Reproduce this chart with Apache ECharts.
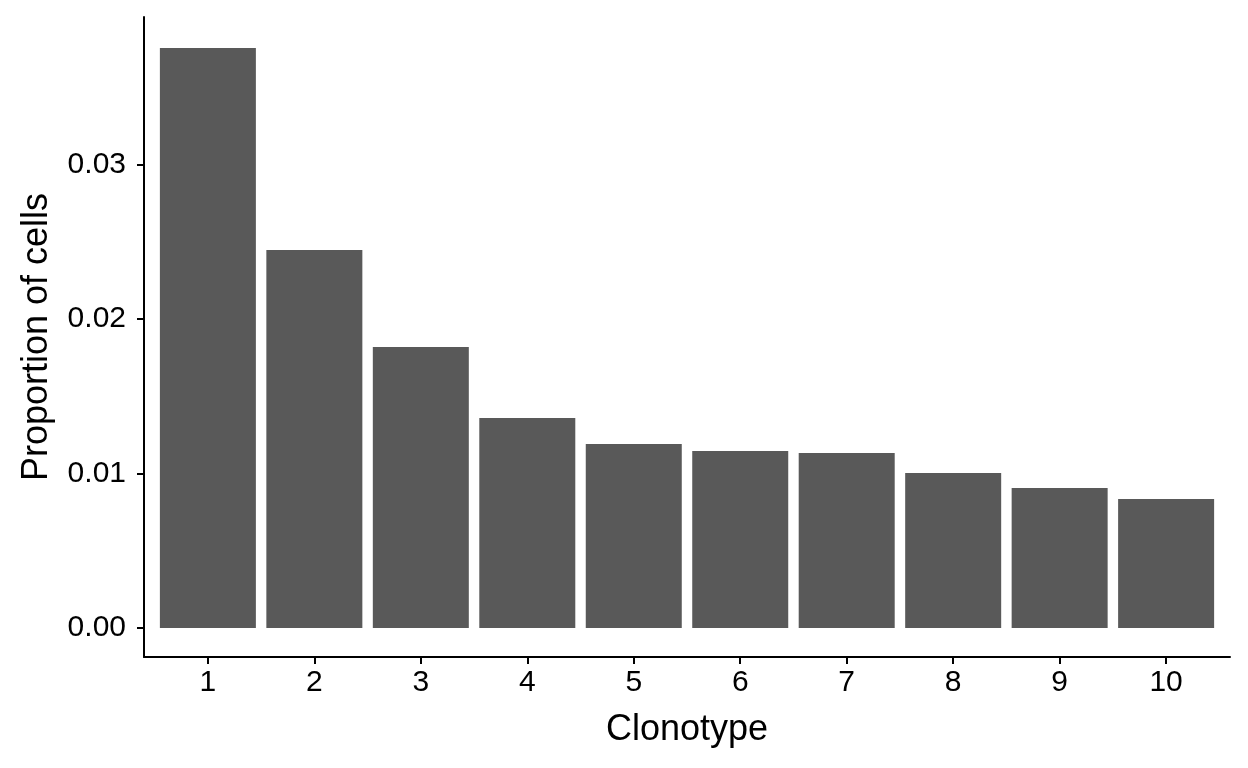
<!DOCTYPE html>
<html>
<head>
<meta charset="utf-8">
<script src="https://cdn.jsdelivr.net/npm/echarts@6/dist/echarts.min.js"></script>
<style>
html,body{margin:0;padding:0;background:#fff;}
#c{width:1248px;height:768px;}
</style>
</head>
<body>
<div id="c"></div>
<script>
var categories = [1, 2, 3, 4, 5, 6, 7, 8, 9, 10];
var proportions = [0.03752, 0.02446, 0.01818, 0.01359, 0.01190, 0.01145, 0.01132, 0.01003, 0.00906, 0.00835];
var yTicks = [0, 0.01, 0.02, 0.03];
var yTickLabels = ['0.00', '0.01', '0.02', '0.03'];

var chart = echarts.init(document.getElementById('c'), null, {renderer: 'canvas'});
var font = 'Liberation Sans, Arial, Helvetica, sans-serif';
var data = categories.map(function (c, i) { return [c, proportions[i]]; });

chart.setOption({
  animation: false,
  backgroundColor: '#ffffff',
  grid: {left: 144, right: 18, top: 17, bottom: 111, containLabel: false},
  xAxis: {
    type: 'value',
    min: 0.4,
    max: 10.6,
    name: 'Clonotype',
    nameLocation: 'middle',
    nameGap: 55,
    nameTextStyle: {fontFamily: font, fontSize: 36, color: '#000'},
    axisLine: {show: true, onZero: false, lineStyle: {color: '#000', width: 2}},
    axisTick: {show: true, length: 7, lineStyle: {color: '#000', width: 2}, customValues: categories},
    axisLabel: {show: true, fontFamily: font, fontSize: 30, color: '#000', margin: 11,
      customValues: categories, formatter: function (v) { return String(v); }},
    splitLine: {show: false}
  },
  yAxis: {
    type: 'value',
    min: -0.001876,
    max: 0.03953,
    name: 'Proportion of cells',
    nameLocation: 'middle',
    nameGap: 89,
    nameTextStyle: {fontFamily: font, fontSize: 36, color: '#000'},
    axisLine: {show: true, onZero: false, lineStyle: {color: '#000', width: 2}},
    axisTick: {show: true, length: 7, lineStyle: {color: '#000', width: 2}, customValues: yTicks},
    axisLabel: {show: true, fontFamily: font, fontSize: 30, color: '#000', margin: 18,
      customValues: yTicks,
      formatter: function (v) {
        for (var i = 0; i < yTicks.length; i++) { if (Math.abs(v - yTicks[i]) < 1e-9) return yTickLabels[i]; }
        return '';
      }},
    splitLine: {show: false}
  },
  series: [{
    type: 'bar',
    data: data,
    barWidth: 96,
    itemStyle: {color: '#595959'}
  }]
});
</script>
</body>
</html>
